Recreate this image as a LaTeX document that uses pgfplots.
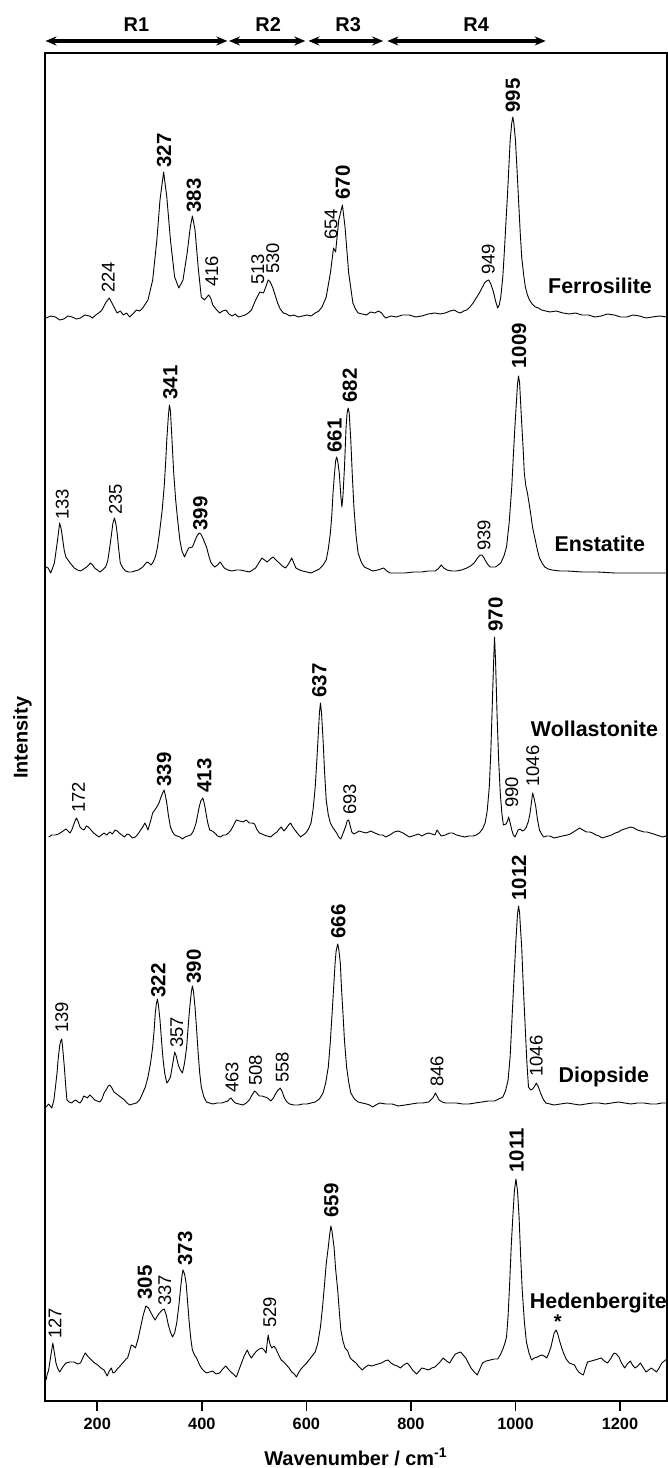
\documentclass[border=0pt]{standalone}
\usepackage{fontspec}
\setmainfont{Liberation Sans}
\usepackage{pgfplots}
\pgfplotsset{compat=1.18}
\usetikzlibrary{arrows.meta}
\tikzset{
  pb/.style={rotate=90,anchor=west,inner sep=0pt,font=\bfseries\fontsize{10.25}{12}\selectfont},
  pr/.style={rotate=90,anchor=west,inner sep=0pt,font=\fontsize{9.25}{11}\selectfont},
  nm/.style={anchor=base west,inner sep=0pt,font=\bfseries\fontsize{10.75}{13}\selectfont},
  reg/.style={line width=2bp,{Stealth[length=5.5bp,width=4.5bp]}-{Stealth[length=5.5bp,width=4.5bp]}},
  spec/.style={black,line width=0.45bp,line join=round}
}
\begin{document}
\begin{tikzpicture}
\begin{axis}[
  name=ax,
  scale only axis,
  width=311bp, height=674bp,
  xmin=100, xmax=1290, ymin=0, ymax=1348,
  axis line style={line width=1bp},
  xtick={200,400,600,800,1000,1200},
  ytick=\empty,
  xtick pos=bottom,
  tick align=outside,
  major tick length=5bp,
  every tick/.style={black,line width=0.8bp},
  xticklabel style={font=\bfseries\fontsize{8.2}{9}\selectfont},
  /pgf/number format/assume math mode=true,
  /pgf/number format/1000 sep={},
  xlabel={Wavenumber / cm\textsuperscript{-1}},
  ylabel={Intensity},
  label style={font=\bfseries\fontsize{10}{12}\selectfont},
  x label style={at={(axis description cs:0.5,-0.0415)},anchor=center},
  y label style={at={(axis description cs:-0.0362,0.492)},anchor=center},
  clip=false,
]
% Ferrosilite
\addplot[spec] coordinates {(102,1083)(111,1085)(120,1084)(128,1081)(136,1082)(144,1085)(152,1084)(160,1082)(168,1083)(176,1086)(185,1085)(191,1083)(197,1086)(203,1088)(209,1091)(217,1099)(223,1103)(230,1096)(238,1088)(244,1090)(250,1086)(256,1088)(262,1084)(268,1087)(275,1091)(281,1090)(287,1093)(297,1101)(306,1121)(314,1161)(320,1201)(327,1229)(333,1204)(340,1161)(348,1124)(356,1113)(364,1121)(372,1148)(378,1174)(382,1185)(387,1171)(393,1134)(399,1104)(405,1101)(413,1106)(417,1103)(421,1096)(427,1092)(434,1088)(440,1090)(446,1091)(452,1087)(458,1085)(464,1087)(470,1084)(477,1085)(483,1086)(489,1088)(495,1091)(503,1101)(511,1109)(518,1108)(523,1115)(527,1121)(531,1119)(536,1113)(545,1098)(550,1092)(556,1088)(562,1087)(568,1085)(576,1086)(585,1084)(593,1085)(601,1086)(609,1085)(617,1088)(624,1090)(630,1094)(638,1104)(646,1128)(652,1153)(656,1149)(662,1181)(669,1196)(674,1174)(681,1128)(689,1098)(694,1092)(699,1088)(707,1087)(715,1086)(723,1089)(731,1088)(738,1090)(744,1088)(748,1085)(752,1083)(762,1085)(772,1084)(784,1086)(797,1086)(809,1084)(821,1085)(833,1087)(846,1088)(856,1087)(866,1088)(875,1090)(883,1091)(889,1089)(895,1088)(901,1090)(907,1091)(913,1094)(919,1098)(925,1103)(931,1108)(936,1113)(941,1118)(945,1120)(949,1121)(953,1117)(958,1109)(962,1100)(966,1093)(969,1096)(972,1104)(976,1125)(979,1151)(982,1180)(985,1208)(988,1240)(990,1261)(993,1278)(995,1284)(997,1278)(1000,1261)(1003,1232)(1006,1201)(1009,1170)(1012,1144)(1016,1125)(1019,1114)(1023,1106)(1027,1101)(1032,1097)(1038,1094)(1044,1093)(1050,1091)(1058,1090)(1066,1089)(1078,1090)(1091,1088)(1103,1087)(1115,1088)(1127,1086)(1140,1086)(1152,1084)(1164,1085)(1176,1087)(1189,1086)(1201,1084)(1213,1084)(1225,1086)(1237,1085)(1250,1083)(1262,1084)(1276,1085)(1290,1084)};
% Enstatite
\addplot[spec] coordinates {(102,834)(106,833)(111,828)(118,838)(124,861)(128,878)(131,872)(134,861)(137,850)(140,844)(144,841)(148,838)(156,833)(162,831)(168,830)(177,833)(182,835)(187,838)(191,836)(195,833)(205,829)(210,831)(216,834)(220,840)(224,854)(227,866)(230,878)(233,883)(236,876)(238,868)(241,852)(244,838)(249,833)(254,830)(260,829)(266,829)(272,830)(279,831)(287,834)(295,839)(299,838)(303,836)(307,839)(311,844)(315,853)(319,868)(324,890)(328,914)(331,940)(333,961)(336,985)(338,996)(340,990)(343,961)(346,930)(350,901)(354,880)(358,861)(362,850)(367,844)(371,849)(375,853)(382,854)(386,859)(389,863)(392,866)(395,868)(398,867)(402,863)(405,859)(409,854)(413,846)(417,839)(421,836)(425,834)(430,836)(435,839)(439,836)(443,833)(450,831)(458,830)(466,831)(474,831)(482,830)(491,829)(497,831)(503,833)(509,838)(515,843)(520,841)(525,839)(531,842)(536,844)(542,841)(548,838)(554,835)(560,833)(566,837)(572,843)(576,838)(580,833)(587,831)(593,830)(601,829)(609,828)(617,830)(625,832)(632,836)(638,841)(642,852)(646,868)(649,888)(651,908)(654,928)(656,940)(658,944)(660,940)(663,928)(666,905)(668,894)(670,905)(673,934)(676,974)(678,988)(680,993)(682,988)(685,961)(688,925)(691,894)(695,866)(699,848)(705,839)(711,834)(719,832)(727,830)(737,831)(748,833)(754,830)(760,828)(775,828)(789,828)(805,829)(821,829)(833,830)(846,830)(852,832)(858,836)(863,833)(869,831)(878,830)(887,830)(897,831)(907,833)(914,835)(921,838)(925,841)(929,844)(933,846)(936,846)(940,843)(944,839)(948,836)(952,834)(957,834)(962,834)(967,836)(972,838)(978,845)(983,854)(988,878)(993,914)(996,945)(999,974)(1002,1000)(1004,1017)(1006,1025)(1008,1018)(1010,998)(1012,978)(1015,950)(1017,928)(1020,915)(1023,908)(1026,898)(1029,888)(1033,873)(1038,861)(1042,851)(1046,843)(1051,838)(1056,834)(1063,832)(1070,831)(1085,830)(1099,830)(1128,829)(1156,829)(1190,828)(1221,828)(1255,828)(1290,828)};
% Wollastonite
\addplot[spec] coordinates {(107,564)(113,566)(120,566)(126,567)(132,569)(140,572)(148,568)(152,572)(156,578)(160,583)(163,580)(167,574)(171,572)(175,571)(179,575)(183,574)(188,571)(193,568)(198,566)(203,564)(208,566)(213,568)(218,566)(224,569)(229,567)(234,571)(238,570)(242,568)(247,566)(252,564)(257,567)(262,566)(267,563)(273,564)(278,567)(283,571)(287,574)(291,578)(294,575)(297,571)(302,580)(306,588)(310,591)(314,594)(318,598)(322,604)(325,608)(328,611)(330,606)(333,598)(336,586)(340,574)(344,569)(348,566)(353,565)(358,564)(363,562)(368,564)(373,565)(379,566)(384,570)(389,578)(392,586)(395,594)(398,600)(402,603)(405,597)(408,588)(411,579)(415,571)(420,570)(425,568)(430,565)(436,564)(441,566)(446,566)(451,568)(456,571)(461,576)(466,581)(472,580)(479,579)(485,581)(491,578)(496,578)(501,577)(505,572)(510,568)(515,567)(519,566)(525,565)(532,564)(538,567)(544,569)(548,572)(552,574)(557,570)(562,573)(566,576)(570,578)(574,574)(578,571)(584,567)(589,564)(594,566)(599,568)(604,572)(609,578)(613,592)(617,614)(620,640)(623,668)(625,688)(627,698)(629,688)(632,661)(635,628)(638,601)(642,586)(646,578)(650,574)(654,571)(658,568)(662,564)(666,562)(669,566)(672,570)(676,576)(678,580)(681,581)(684,575)(687,569)(691,567)(695,568)(701,570)(707,569)(715,568)(723,570)(731,568)(740,566)(746,566)(752,564)(760,566)(768,569)(776,570)(785,568)(791,566)(797,564)(803,565)(809,566)(815,567)(821,565)(828,567)(834,568)(840,567)(846,566)(850,571)(854,568)(858,565)(866,566)(874,568)(880,568)(887,566)(895,565)(903,564)(911,565)(919,565)(925,566)(931,568)(937,572)(942,578)(946,590)(950,614)(953,650)(955,684)(958,735)(960,764)(962,740)(965,684)(968,640)(971,608)(974,588)(977,576)(982,577)(985,580)(987,584)(990,578)(993,571)(996,566)(999,564)(1002,567)(1005,571)(1009,572)(1013,570)(1017,571)(1021,574)(1025,580)(1028,588)(1031,600)(1033,608)(1036,602)(1039,594)(1042,582)(1046,571)(1050,567)(1054,564)(1060,565)(1066,565)(1074,563)(1082,564)(1090,565)(1099,566)(1105,567)(1111,569)(1117,571)(1123,573)(1129,571)(1136,569)(1142,569)(1148,568)(1154,566)(1160,565)(1166,563)(1172,564)(1178,565)(1184,566)(1191,568)(1197,569)(1203,571)(1209,572)(1215,573)(1221,574)(1227,573)(1233,571)(1240,570)(1246,569)(1252,569)(1258,568)(1264,567)(1270,566)(1276,565)(1282,564)(1288,565)};
% Diopside
\addplot[spec] coordinates {(102,294)(107,297)(110,295)(113,293)(117,301)(120,314)(123,328)(125,341)(128,355)(130,360)(132,362)(134,352)(137,334)(140,313)(142,301)(146,299)(151,298)(155,300)(159,301)(163,299)(167,298)(171,301)(174,305)(178,304)(181,303)(184,305)(186,306)(190,304)(195,301)(200,300)(205,299)(209,302)(213,308)(218,312)(221,315)(224,316)(228,313)(232,309)(237,307)(242,305)(247,303)(252,301)(257,298)(262,296)(268,297)(275,298)(281,301)(287,308)(292,314)(297,324)(302,338)(306,354)(309,372)(311,388)(313,397)(315,402)(317,396)(320,381)(323,360)(326,341)(329,328)(333,318)(336,320)(340,324)(344,336)(348,349)(351,345)(355,336)(359,331)(363,328)(367,338)(371,354)(374,375)(377,394)(380,409)(382,415)(384,410)(387,394)(390,372)(393,348)(396,328)(399,314)(404,304)(409,299)(415,298)(421,297)(429,298)(438,298)(444,299)(450,300)(453,302)(456,303)(460,300)(464,298)(471,297)(479,296)(485,298)(491,301)(496,306)(501,310)(505,308)(510,305)(515,305)(521,304)(526,303)(532,300)(537,303)(542,308)(546,311)(550,313)(554,309)(558,303)(563,299)(568,297)(576,296)(585,296)(593,297)(601,297)(609,298)(617,299)(625,302)(632,308)(637,318)(642,334)(646,360)(650,394)(653,420)(655,438)(657,450)(660,457)(662,452)(665,438)(667,415)(670,388)(673,360)(677,334)(681,319)(685,308)(692,302)(699,299)(707,298)(715,297)(721,296)(727,294)(733,296)(740,298)(752,297)(764,297)(776,295)(789,296)(801,297)(813,298)(823,298)(834,299)(838,301)(842,303)(845,306)(847,308)(850,305)(854,301)(860,299)(866,298)(876,298)(887,298)(899,297)(911,297)(923,298)(936,299)(948,300)(960,300)(968,302)(976,304)(981,310)(986,321)(990,345)(994,388)(998,430)(1001,461)(1004,487)(1006,495)(1008,488)(1010,470)(1012,454)(1015,415)(1019,371)(1022,338)(1025,314)(1029,311)(1033,312)(1037,315)(1040,318)(1044,314)(1048,308)(1053,302)(1058,298)(1066,297)(1074,296)(1086,297)(1099,298)(1111,297)(1123,296)(1135,297)(1148,298)(1160,298)(1172,297)(1184,298)(1197,299)(1209,298)(1221,297)(1233,298)(1246,298)(1258,297)(1270,297)(1280,298)(1290,298)};
% Hedenbergite
\addplot[spec] coordinates {(102,21)(104,26)(107,31)(111,45)(115,58)(118,48)(121,38)(124,33)(128,29)(134,34)(140,38)(148,39)(156,39)(162,37)(168,38)(173,44)(177,48)(183,44)(189,41)(195,38)(201,36)(207,33)(213,31)(216,28)(219,25)(223,30)(227,33)(230,28)(234,29)(238,32)(242,34)(247,37)(252,40)(255,42)(258,43)(262,50)(265,56)(269,55)(273,53)(278,62)(283,74)(288,86)(293,95)(298,93)(303,88)(307,84)(311,81)(315,85)(319,88)(324,91)(328,92)(332,86)(336,76)(340,69)(344,64)(348,68)(352,78)(356,95)(359,111)(362,125)(364,131)(367,127)(370,118)(373,98)(376,78)(379,62)(382,51)(386,46)(390,43)(394,38)(399,33)(404,30)(409,28)(415,29)(421,30)(427,27)(434,28)(440,32)(446,35)(452,31)(458,28)(462,26)(466,24)(471,31)(476,38)(481,45)(487,51)(491,46)(495,43)(500,47)(505,50)(510,52)(515,53)(519,51)(523,48)(525,58)(527,66)(529,60)(531,56)(534,53)(538,55)(542,52)(547,46)(552,41)(557,39)(562,36)(567,33)(572,29)(577,27)(581,24)(587,30)(593,34)(599,37)(605,41)(611,45)(617,49)(622,58)(627,74)(631,94)(635,118)(638,137)(642,154)(645,168)(647,175)(649,170)(653,154)(656,132)(660,111)(663,90)(666,71)(670,60)(674,53)(679,50)(684,43)(690,40)(695,38)(701,34)(707,31)(713,34)(719,36)(725,35)(731,36)(737,37)(744,38)(750,40)(756,41)(762,38)(768,36)(774,35)(780,33)(786,36)(793,38)(798,35)(803,31)(807,29)(811,27)(816,30)(821,33)(828,32)(834,31)(840,33)(846,34)(854,38)(862,43)(868,40)(874,38)(880,43)(885,47)(890,48)(895,49)(900,46)(905,43)(910,38)(915,33)(921,29)(927,26)(932,32)(937,38)(944,40)(952,41)(959,42)(966,42)(971,46)(976,52)(980,58)(983,64)(986,85)(989,118)(992,155)(995,184)(998,210)(1001,222)(1004,210)(1007,184)(1010,145)(1013,111)(1017,80)(1021,59)(1026,48)(1031,41)(1036,43)(1042,44)(1046,45)(1051,46)(1055,45)(1060,43)(1064,48)(1068,54)(1071,61)(1074,68)(1078,71)(1081,67)(1084,61)(1088,54)(1092,48)(1097,42)(1103,38)(1108,37)(1113,36)(1117,32)(1121,29)(1126,27)(1130,26)(1134,33)(1138,39)(1145,40)(1152,41)(1158,42)(1164,43)(1170,40)(1176,38)(1182,42)(1186,46)(1189,48)(1193,47)(1198,44)(1203,38)(1209,33)(1214,37)(1220,40)(1224,36)(1229,33)(1234,35)(1239,38)(1245,33)(1250,29)(1255,31)(1260,33)(1265,31)(1270,29)(1275,33)(1280,38)(1285,40)(1290,42)};
% region arrows
\draw[reg] (axis cs:101,1360) -- (axis cs:449,1360);
\draw[reg] (axis cs:452,1360) -- (axis cs:598,1360);
\draw[reg] (axis cs:604,1360) -- (axis cs:747,1360);
\draw[reg] (axis cs:755,1360) -- (axis cs:1058,1360);
\node[font=\bfseries\fontsize{10}{12}\selectfont] at (axis cs:275,1376) {R1};
\node[font=\bfseries\fontsize{10}{12}\selectfont] at (axis cs:527,1376) {R2};
\node[font=\bfseries\fontsize{10}{12}\selectfont] at (axis cs:680,1376) {R3};
\node[font=\bfseries\fontsize{10}{12}\selectfont] at (axis cs:925,1376) {R4};
% Ferrosilite labels
\node[pr] at (axis cs:221,1108) {224};
\node[pb] at (axis cs:328,1233) {327};
\node[pb] at (axis cs:385,1188) {383};
\node[pr] at (axis cs:419,1114) {416};
\node[pr] at (axis cs:507,1116) {513};
\node[pr] at (axis cs:536,1127) {530};
\node[pr] at (axis cs:647,1161) {654};
\node[pb] at (axis cs:670,1201) {670};
\node[pr] at (axis cs:948,1126) {949};
\node[pb] at (axis cs:995,1288) {995};
\node[nm] at (axis cs:1062,1107) {Ferrosilite};
% Enstatite labels
\node[pr] at (axis cs:133,881) {133};
\node[pr] at (axis cs:235,886) {235};
\node[pb] at (axis cs:340,1001) {341};
\node[pb] at (axis cs:397,870) {399};
\node[pb] at (axis cs:654,948) {661};
\node[pb] at (axis cs:683,998) {682};
\node[pr] at (axis cs:940,850) {939};
\node[pb] at (axis cs:1007,1032) {1009};
\node[nm] at (axis cs:1074,849) {Enstatite};
% Wollastonite labels
\node[pr] at (axis cs:164,588) {172};
\node[pb] at (axis cs:328,614) {339};
\node[pb] at (axis cs:405,608) {413};
\node[pb] at (axis cs:625,703) {637};
\node[pr] at (axis cs:683,586) {693};
\node[pb] at (axis cs:962,769) {970};
\node[pr] at (axis cs:993,593) {990};
\node[pr] at (axis cs:1033,614) {1046};
\node[nm] at (axis cs:1029,664) {Wollastonite};
% Diopside labels
\node[pr] at (axis cs:132,368) {139};
\node[pb] at (axis cs:317,403) {322};
\node[pr] at (axis cs:352,353) {357};
\node[pb] at (axis cs:385,417) {390};
\node[pr] at (axis cs:458,308) {463};
\node[pr] at (axis cs:503,315) {508};
\node[pr] at (axis cs:554,318) {558};
\node[pb] at (axis cs:661,462) {666};
\node[pr] at (axis cs:850,314) {846};
\node[pb] at (axis cs:1007,500) {1012};
\node[pr] at (axis cs:1040,324) {1046};
\node[nm] at (axis cs:1082,318) {Diopside};
% Hedenbergite labels
\node[pr] at (axis cs:119,62) {127};
\node[pb] at (axis cs:291,101) {305};
\node[pr] at (axis cs:329,95) {337};
\node[pb] at (axis cs:368,135) {373};
\node[pr] at (axis cs:530,73) {529};
\node[pb] at (axis cs:648,183) {659};
\node[pb] at (axis cs:1002,228) {1011};
\node[font=\bfseries\fontsize{10}{12}\selectfont] at (axis cs:1081,79) {*};
\node[nm] at (axis cs:1027,93) {Hedenbergite};
\end{axis}
\pgfresetboundingbox
\path ([xshift=-22.5bp,yshift=-33.5bp]ax.south west) rectangle ([xshift=0.5bp,yshift=26.5bp]ax.north east);
\end{tikzpicture}
\end{document}
